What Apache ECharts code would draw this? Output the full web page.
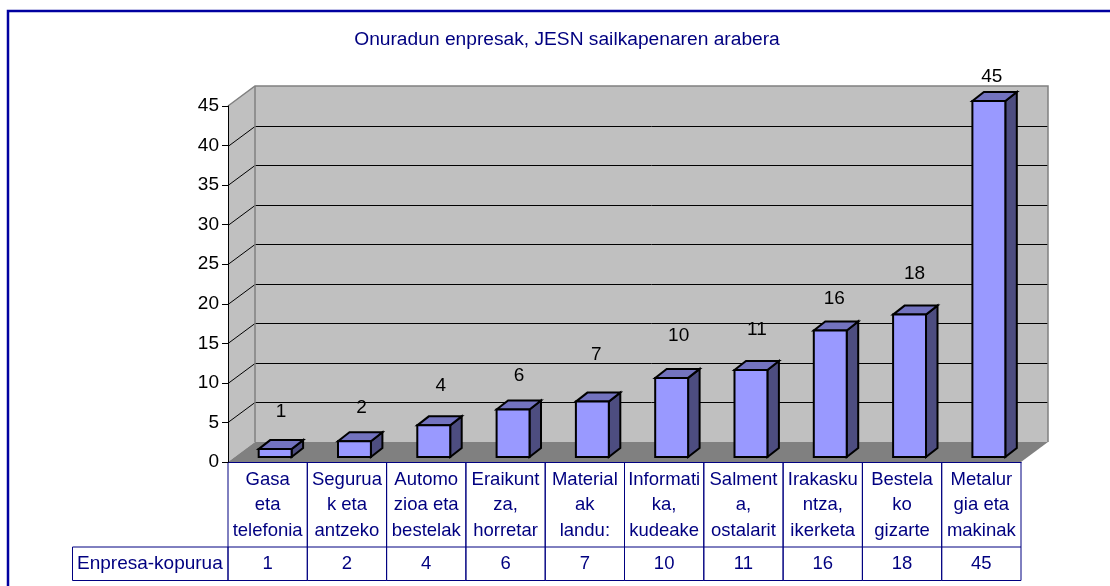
<!DOCTYPE html>
<html>
<head>
<meta charset="utf-8">
<title>Onuradun enpresak</title>
<style>
  html, body { margin: 0; padding: 0; background: #fff; }
  #chart { width: 1110px; height: 586px; }
</style>
<script src="https://cdn.jsdelivr.net/npm/echarts@6/dist/echarts.min.js"></script>
</head>
<body>
<div id="chart"></div>
<script>
  const categories = [
    'Gasa\neta\ntelefonia',
    'Segurua\nk eta\nantzeko',
    'Automo\nzioa eta\nbestelak',
    'Eraikunt\nza,\nhorretar',
    'Material\nak\nlandu:',
    'Informati\nka,\nkudeake',
    'Salment\na,\nostalarit',
    'Irakasku\nntza,\nikerketa',
    'Bestela\nko\ngizarte',
    'Metalur\ngia eta\nmakinak'
  ]
  const values = [1, 2, 4, 6, 7, 10, 11, 16, 18, 45]
  const yTicks = [0, 5, 10, 15, 20, 25, 30, 35, 40, 45]
  const seriesName = 'Enpresa-kopurua'
  const chartTitle = 'Onuradun enpresak, JESN sailkapenaren arabera'

  // value labels sit unevenly around the bars in the original
  const labelLift = [37, 33, 40, 34, 47, 42, 40, 32, 41, 24]
  const labelNudge = [0, 1, 1, 0, -2, 1, 0, -2, -1, -3]

  const NAVY = '#000080'
  const FONT = '"Liberation Sans", Arial, sans-serif'
  const WALL_X = 27
  const WALL_Y = -20
  const BAR_FRONT_X = 7.5
  const BAR_FRONT_Y = -5
  const BAR_DEPTH_X = 11.5
  const BAR_DEPTH_Y = -9
  const ROW_1 = 85
  const ROW_2 = 118.5

  const chart = echarts.init(document.getElementById('chart'))

  function poly(points, fill, stroke, width) {
    return {
      type: 'polygon',
      shape: { points },
      style: { fill, stroke: stroke || null, lineWidth: width || 0 }
    }
  }

  function line(points, stroke, width) {
    return {
      type: 'polyline',
      shape: { points },
      style: { fill: null, stroke, lineWidth: width || 1 }
    }
  }

  function renderWalls(params, api) {
    const left = params.coordSys.x
    const right = left + params.coordSys.width
    const y0 = api.coord([0, 0])[1]
    const yTop = api.coord([0, yTicks[yTicks.length - 1]])[1]
    const bl = left + WALL_X
    const br = right + WALL_X
    const children = [
      poly([[left, y0], [bl, y0 + WALL_Y], [bl, yTop + WALL_Y], [left, yTop]], '#c0c0c0'),
      poly([[bl, yTop + WALL_Y], [br, yTop + WALL_Y], [br, y0 + WALL_Y], [bl, y0 + WALL_Y]], '#c0c0c0'),
      poly([[left, y0], [bl, y0 + WALL_Y], [br, y0 + WALL_Y], [right, y0]], '#808080')
    ]
    yTicks.slice(1, -1).forEach(t => {
      const y = Math.round(api.coord([0, t])[1]) + 0.5
      children.push(line([[left, y], [bl, y + WALL_Y], [br, y + WALL_Y]], '#000', 1))
    })
    children.push(line([[left, yTop], [bl, yTop + WALL_Y], [br, yTop + WALL_Y], [br, y0 + WALL_Y]], '#808080', 1.5))
    children.push(line([[bl, yTop + WALL_Y], [bl, y0 + WALL_Y]], '#808080', 1.5))
    return { type: 'group', children }
  }

  function renderBar(params, api) {
    const i = api.value(0)
    const top = api.coord([i, api.value(1)])
    const base = api.coord([i, 0])
    const w = api.size([1, 0])[0] * 0.415
    const x0 = top[0] + BAR_FRONT_X - w / 2
    const x1 = x0 + w
    const y0 = base[1] + BAR_FRONT_Y
    const y1 = top[1] + BAR_FRONT_Y
    const dx = BAR_DEPTH_X
    const dy = BAR_DEPTH_Y
    const edge = { stroke: '#000', width: 2 }
    return {
      type: 'group',
      children: [
        poly([[x1, y0], [x1 + dx, y0 + dy], [x1 + dx, y1 + dy], [x1, y1]], '#4d4d80', edge.stroke, edge.width),
        poly([[x0, y1], [x1, y1], [x1 + dx, y1 + dy], [x0 + dx, y1 + dy]], '#7373bf', edge.stroke, edge.width),
        poly([[x0, y0], [x1, y0], [x1, y1], [x0, y1]], '#9999ff', edge.stroke, edge.width),
        {
          type: 'text',
          style: {
            x: top[0] + BAR_FRONT_X + 6 + labelNudge[i],
            y: y1 - labelLift[i],
            text: String(api.value(1)),
            fill: '#000',
            font: '19px ' + FONT,
            align: 'center',
            verticalAlign: 'middle'
          }
        }
      ]
    }
  }

  function renderTable(params, api) {
    const i = api.value(0)
    const pos = api.coord([i, 0])
    const w = api.size([1, 0])[0]
    const x0 = pos[0] - w / 2
    const x1 = pos[0] + w / 2
    const y0 = pos[1]
    return {
      type: 'group',
      children: [
        line([[x0, y0], [x0, y0 + ROW_2]], NAVY, 1),
        line([[x1, y0], [x1, y0 + ROW_2]], NAVY, 1),
        line([[x0, y0 + ROW_1], [x1, y0 + ROW_1]], NAVY, 1),
        line([[x0, y0 + ROW_2], [x1, y0 + ROW_2]], NAVY, 1),
        {
          type: 'text',
          style: {
            x: pos[0],
            y: y0 + (ROW_1 + ROW_2) / 2,
            text: String(api.value(1)),
            fill: NAVY,
            font: '18.5px ' + FONT,
            align: 'center',
            verticalAlign: 'middle'
          }
        }
      ]
    }
  }

  chart.setOption({
    animation: false,
    backgroundColor: '#fff',
    textStyle: { fontFamily: FONT },
    title: {
      text: chartTitle,
      left: 562,
      top: 25,
      textAlign: 'center',
      textStyle: { color: NAVY, fontSize: 19.2, fontWeight: 'normal', fontFamily: FONT }
    },
    grid: { left: 228, top: 106, width: 793, height: 356 },
    xAxis: {
      type: 'category',
      data: categories,
      axisLine: { show: true, lineStyle: { color: NAVY, width: 1 } },
      axisTick: { show: false },
      axisLabel: {
        interval: 0,
        margin: 5,
        color: NAVY,
        fontSize: 18.5,
        lineHeight: 25.5,
        align: 'center'
      }
    },
    yAxis: {
      type: 'value',
      min: 0,
      max: 45,
      interval: 5,
      z: 5,
      axisLine: { show: true, lineStyle: { color: '#000', width: 1 } },
      axisTick: { show: true, length: 6, lineStyle: { color: '#000' } },
      axisLabel: { color: '#000', fontSize: 19, margin: 9 },
      splitLine: { show: false }
    },
    graphic: [
      { type: 'polyline', silent: true, shape: { points: [[8, 586], [8, 11], [1110, 11]] }, style: { fill: null, stroke: '#0000a0', lineWidth: 2.5 } },
      { type: 'rect', silent: true, shape: { x: 72.5, y: 547, width: 155.5, height: 33.5 }, style: { fill: null, stroke: NAVY, lineWidth: 1 } },
      { type: 'text', silent: true, style: { x: 77, y: 564, text: seriesName, fill: NAVY, font: '19px ' + FONT, verticalAlign: 'middle' } }
    ],
    series: [
      {
        type: 'custom',
        name: 'walls',
        coordinateSystem: 'cartesian2d',
        silent: true,
        z: 1,
        renderItem: renderWalls,
        data: [[0, 0]]
      },
      {
        type: 'custom',
        name: seriesName,
        coordinateSystem: 'cartesian2d',
        z: 2,
        renderItem: renderBar,
        data: values.map((v, i) => [i, v])
      },
      {
        type: 'custom',
        name: 'table',
        coordinateSystem: 'cartesian2d',
        silent: true,
        z: 3,
        renderItem: renderTable,
        data: values.map((v, i) => [i, v])
      }
    ]
  })
</script>
</body>
</html>
